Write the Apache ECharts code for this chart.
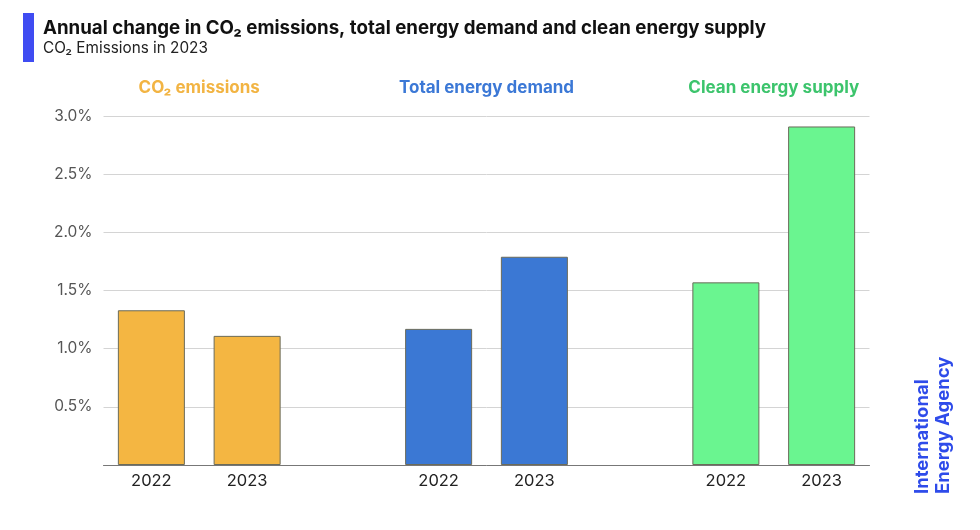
<!DOCTYPE html>
<html><head><meta charset="utf-8">
<script src="https://cdn.jsdelivr.net/npm/echarts@6/dist/echarts.min.js"></script>
<style>html,body{margin:0;padding:0;background:#fff}#c{width:980px;height:530px}</style>
</head><body><div id="c"></div>
<script>
const groups = ['CO₂ emissions', 'Total energy demand', 'Clean energy supply'];
const groupTitleColors = ['#F2B443', '#3B78D6', '#3CC46C'];
const barColors = ['#F4B642', '#3B78D4', '#6AF590'];
const years = ['2022', '2023'];
const co2 = [1.33, 1.11];
const demand = [1.17, 1.79];
const clean = [1.57, 2.91];
const yTicks = ['0.5%', '1.0%', '1.5%', '2.0%', '2.5%', '3.0%'];

const seriesValues = [co2, demand, clean];
const categories = [];
const data = [];
groups.forEach((g, gi) => {
  years.forEach((y, yi) => {
    categories.push(g + '|' + y);
    data.push({ value: seriesValues[gi][yi], itemStyle: { color: barColors[gi] } });
  });
  if (gi < groups.length - 1) {
    categories.push('gap' + gi);
    data.push(null);
  }
});

const FONT = 'Inter, "Noto Sans", sans-serif';
const chart = echarts.init(document.getElementById('c'));
chart.setOption({
  animation: false,
  grid: { left: 103.5, right: 110.5, top: 116, bottom: 65 },
  xAxis: {
    type: 'category', data: categories,
    axisTick: { show: false },
    axisLine: { lineStyle: { color: '#777', width: 1 } },
    axisLabel: {
      interval: 0, color: '#222', fontSize: 16.5, fontFamily: FONT, margin: 8,
      formatter: v => v.indexOf('|') >= 0 ? v.split('|')[1] : ''
    }
  },
  yAxis: {
    type: 'value', min: 0, max: 3, interval: 0.5,
    axisLine: { show: false }, axisTick: { show: false },
    axisLabel: {
      color: '#555', fontSize: 15.5, fontFamily: FONT, margin: 11,
      formatter: v => { const i = Math.round(v / 0.5) - 1; return i >= 0 ? yTicks[i] : ''; }
    },
    splitLine: { lineStyle: { color: '#d4d4d4', width: 1 } }
  },
  series: [{
    type: 'bar', data: data, barWidth: '70%',
    itemStyle: { borderColor: '#6b6b5a', borderWidth: 1 }
  }]
});

const graphics = [
  { type: 'rect', shape: { x: 23, y: 13, width: 11, height: 49 }, style: { fill: '#3F4CF2' } },
  { type: 'text', x: 43, y: 28, style: { text: 'Annual change in CO₂ emissions, total energy demand and clean energy supply', fontSize: 18.7, fontWeight: 'bold', fill: '#111', fontFamily: FONT, verticalAlign: 'middle' } },
  { type: 'text', x: 43, y: 48, style: { text: 'CO₂ Emissions in 2023', fontSize: 15.3, fill: '#222', fontFamily: FONT, verticalAlign: 'middle' } },
  { type: 'text', x: 933, y: 494, rotation: Math.PI / 2, style: { text: 'International\nEnergy Agency', fontSize: 18.5, fontWeight: 'bold', fill: '#2E4BEA', fontFamily: FONT, align: 'left', verticalAlign: 'middle', lineHeight: 21 } }
];
groups.forEach((g, gi) => {
  const a = chart.convertToPixel({ xAxisIndex: 0 }, g + '|' + years[0]);
  const b = chart.convertToPixel({ xAxisIndex: 0 }, g + '|' + years[1]);
  graphics.push({ type: 'text', x: (a + b) / 2, y: 88, style: { text: g, fontSize: 17, fontWeight: 'bold', fill: groupTitleColors[gi], fontFamily: FONT, align: 'center', verticalAlign: 'middle' } });
});
chart.setOption({ graphic: graphics });
</script></body></html>
